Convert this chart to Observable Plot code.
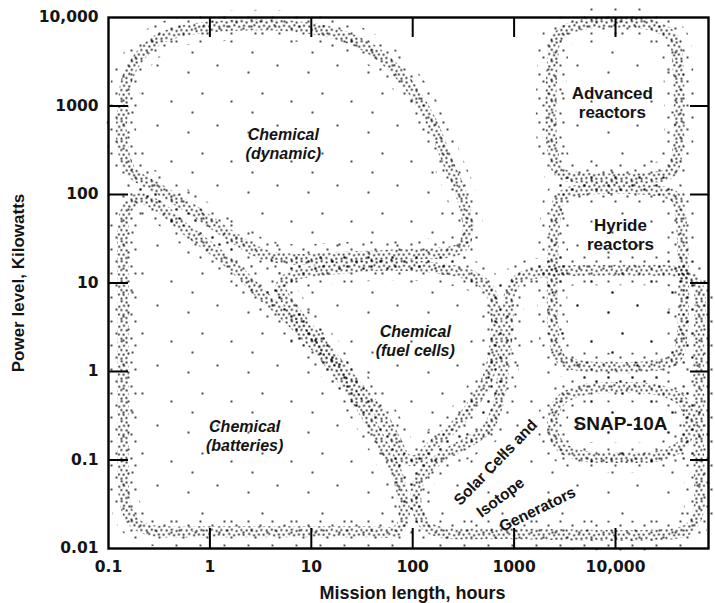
<!DOCTYPE html>
<html><head><meta charset="utf-8">
<script src="https://cdn.jsdelivr.net/npm/d3@7"></script>
<script src="https://cdn.jsdelivr.net/npm/@observablehq/plot@0.6"></script>
<style>body{margin:0;background:#fff}</style>
</head><body><div id="chart"></div>
<script>
// ---- axes ----
const xTickValues = [0.1, 1, 10, 100, 1000, 10000];
const xTickLabels = ["0.1", "1", "10", "100", "1000", "10,000"];
const yTickValues = [0.01, 0.1, 1, 10, 100, 1000, 10000];
const yTickLabels = ["0.01", "0.1", "1", "10", "100", "1000", "10,000"];
const xInnerTicks = [1, 10, 100, 1000, 10000];
const yInnerTicks = [0.1, 1, 10, 100, 1000];
const xTitle = "Mission length, hours";
const yTitle = "Power level, Kilowatts";

// ---- region outlines: [mission length (hours), power level (kW)] ----
const chemicalDynamic = [[0.14, 960], [0.15, 1900], [0.19, 3300], [0.3, 5500], [0.55, 7100], [1.7, 8100], [5.3, 8100], [17, 6600], [41, 4200], [89, 1800], [150, 690], [220, 240], [300, 100], [350, 42], [300, 25], [76, 21], [17, 19.4], [6.7, 18.5], [3.2, 21.5], [1.5, 36], [0.69, 66], [0.33, 111], [0.165, 187], [0.134, 464]];
const chemicalBatteries = [[0.147, 0.031], [0.14, 0.28], [0.14, 6.3], [0.144, 58], [0.165, 79], [0.207, 90], [0.326, 71], [0.55, 42], [1.01, 25], [1.87, 13.9], [3.16, 7.6], [5.3, 4.5], [9.8, 2.24], [17.3, 1.03], [30.6, 0.41], [48, 0.166], [68, 0.076], [81, 0.035], [81, 0.0197], [68, 0.0156], [38, 0.0155], [7.8, 0.0155], [0.81, 0.0155], [0.26, 0.016], [0.176, 0.02]];
const chemicalFuelCells = [[4.97, 8.9], [6.2, 11.8], [8.4, 13.1], [19.4, 14.6], [48, 15.8], [150, 15], [372, 12.2], [560, 8.7], [656, 4.9], [656, 2.24], [560, 0.9], [416, 0.47], [264, 0.245], [157, 0.146], [107, 0.099], [85, 0.104], [68, 0.166], [48, 0.335], [30.6, 0.61], [17.3, 1.33], [9.8, 2.9], [6.2, 5.6]];
const solarIsotope = [[920, 8.2], [1160, 11.5], [1820, 13.1], [12000, 13.9], [46900, 12.8], [64400, 9.4], [66000, 1.73], [66000, 0.128], [66000, 0.027], [55000, 0.0173], [39000, 0.0148], [734, 0.0148], [188, 0.0152], [134, 0.0182], [109, 0.0306], [111, 0.0515], [134, 0.076], [220, 0.118], [372, 0.166], [547, 0.227], [686, 0.41], [786, 1.03], [861, 2.9], [881, 5.6]];
const advancedReactors = [[2400, 3270], [2620, 5800], [4220, 8120], [23200, 8120], [37300, 5800], [40850, 3270], [40850, 314], [34800, 177], [23200, 156], [4220, 156], [2810, 177], [2400, 314]];
const hydrideReactors = [[2560, 58], [2870, 92.5], [4220, 111], [24800, 111], [39100, 92.5], [43750, 58], [44770, 2.24], [39100, 1.40], [24800, 1.17], [4220, 1.17], [2870, 1.40], [2500, 2.24]];
const snap10A = [[2390, 0.265], [2870, 0.47], [5060, 0.627], [11200, 0.66], [27800, 0.61], [46900, 0.447], [52500, 0.265], [46900, 0.154], [27800, 0.1125], [11200, 0.107], [4520, 0.1125], [2740, 0.150]];

const regionNames = ["Chemical (dynamic)", "Chemical (batteries)", "Chemical (fuel cells)", "Solar cells and isotope generators", "Advanced reactors", "Hyride reactors", "SNAP-10A"];
const regionOutlines = [chemicalDynamic, chemicalBatteries, chemicalFuelCells, solarIsotope, advancedReactors, hydrideReactors, snap10A];

// ---- region labels ----
const labelTexts = ["Chemical\n(dynamic)", "Chemical\n(batteries)", "Chemical\n(fuel cells)", "Advanced\nreactors", "Hyride\nreactors", "SNAP-10A", "Solar Cells and", "Isotope", "Generators"];
const labelHours = [5.3, 2.2, 106, 9300, 11200, 11200, 656, 734, 1700];
const labelKW = [377, 0.189, 2.24, 1096, 35.3, 0.258, 0.0937, 0.0377, 0.0276];
const labelAngles = [0, 0, 0, 0, 0, 0, -46, -37, -26];

// ---- build tables ----
const outlineRows = regionOutlines.flatMap((pts, r) => pts.map(([h, kw]) => ({region: regionNames[r], hours: h, kw})));
const labelRows = labelTexts.map((t, i) => ({text: t, hours: labelHours[i], kw: labelKW[i], angle: labelAngles[i], i}));

const ink = "#141414";
const sans = "'Liberation Sans', Arial, sans-serif";
const wide = "'DejaVu Sans', Verdana, sans-serif";

const chart = Plot.plot({
  width: 715, height: 603,
  marginLeft: 108, marginRight: 7, marginTop: 17, marginBottom: 55,
  style: {background: "#fff"},
  x: {type: "log", domain: [0.1, 82600], axis: null},
  y: {type: "log", domain: [0.01, 10000], axis: null},
  marks: [
    Plot.line(outlineRows, {x: "hours", y: "kw", z: "region", curve: "catmull-rom-closed", fill: "url(#sparse)", stroke: "none"}),
    Plot.line(outlineRows, {x: "hours", y: "kw", z: "region", curve: "catmull-rom-closed", fill: "none", stroke: "url(#halo)", strokeWidth: 30, strokeLinejoin: "round"}),
    Plot.line(outlineRows, {x: "hours", y: "kw", z: "region", curve: "catmull-rom-closed", fill: "none", stroke: "url(#stipple)", strokeWidth: 11, strokeLinejoin: "round"}),
    Plot.frame({stroke: "#000", strokeWidth: 2.4}),
    Plot.ruleX(xInnerTicks, {x: d => d, insetTop: 511, stroke: "#000", strokeWidth: 2}),
    Plot.ruleX(xInnerTicks, {x: d => d, insetBottom: 511, stroke: "#000", strokeWidth: 2}),
    Plot.ruleY(yInnerTicks, {y: d => d, insetRight: 580, stroke: "#000", strokeWidth: 2}),
    Plot.ruleY(yInnerTicks, {y: d => d, insetLeft: 582, stroke: "#000", strokeWidth: 2}),
    Plot.text(yTickValues, {y: d => d, text: (d, i) => yTickLabels[i], frameAnchor: "left", textAnchor: "end", lineAnchor: "middle", dx: -10, fontFamily: wide, fontWeight: "bold", fontSize: 15.5, fill: ink}),
    Plot.text(xTickValues, {x: d => d, text: (d, i) => xTickLabels[i], frameAnchor: "bottom", textAnchor: "middle", lineAnchor: "middle", dy: 19, fontFamily: wide, fontWeight: "bold", fontSize: 15.5, fill: ink}),
    Plot.text([xTitle], {text: d => d, frameAnchor: "bottom", textAnchor: "middle", lineAnchor: "middle", dy: 45, dx: 4, fontFamily: sans, fontWeight: "bold", fontSize: 18, fill: ink}),
    Plot.text([yTitle], {text: d => d, frameAnchor: "left", textAnchor: "middle", lineAnchor: "middle", rotate: -90, dx: -90, fontFamily: sans, fontWeight: "bold", fontSize: 17, fill: ink}),
    Plot.text(labelRows, {filter: d => d.i < 3, x: "hours", y: "kw", text: "text", fontFamily: sans, fontWeight: "bold", fontStyle: "italic", fontSize: 16, lineHeight: 1.15, fill: ink}),
    Plot.text(labelRows, {filter: d => d.i >= 3 && d.i < 5, x: "hours", y: "kw", text: "text", fontFamily: sans, fontWeight: "bold", fontSize: 17, lineHeight: 1.1, fill: ink}),
    Plot.text(labelRows, {filter: d => d.i === 5, x: "hours", y: "kw", text: "text", fontFamily: sans, fontWeight: "bold", fontSize: 19, fill: ink}),
    Plot.text(labelRows, {filter: d => d.i > 5, x: "hours", y: "kw", text: "text", rotate: "angle", fontFamily: sans, fontWeight: "bold", fontSize: 15.5, fill: ink})
  ]
});

// stipple textures (style only)
const defs = d3.select(chart).insert("defs", ":first-child");
function dotPattern(id, size, r, dots) {
  const p = defs.append("pattern").attr("id", id).attr("patternUnits", "userSpaceOnUse").attr("width", size).attr("height", size);
  dots.forEach(([cx, cy]) => p.append("circle").attr("cx", cx).attr("cy", cy).attr("r", r).attr("fill", "#000"));
}
dotPattern("stipple", 20, 1.0,
 [[1.2,0.8],[6.1,2.0],[11.4,0.7],[16.2,2.1],
  [3.5,5.2],[8.8,5.9],[13.9,4.8],[18.7,6.3],
  [0.8,9.6],[6.2,10.1],[11.3,9.2],[16.1,10.4],
  [3.1,14.2],[8.7,13.6],[13.6,14.8],[18.4,13.9],
  [1.0,18.3],[5.9,17.6],[11.0,18.9],[15.8,18.2]]);
dotPattern("halo", 24, 0.95, [[3, 4], [15, 9], [8, 17], [20, 21], [11, 2]]);
dotPattern("sparse", 60, 0.95, [[8, 12], [37, 5], [22, 33], [51, 41], [12, 52]]);

document.getElementById("chart").appendChild(chart);
</script>
</body></html>
